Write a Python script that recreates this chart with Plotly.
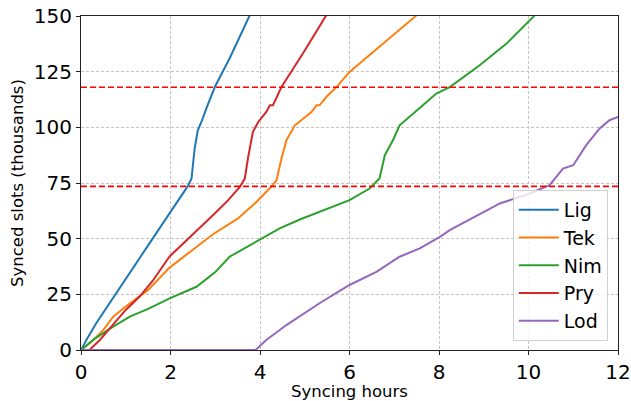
import plotly.graph_objects as go

# Data (hours, thousands of slots)
lig_h = [0, 0.12, 0.34, 0.68, 1.09, 1.5, 1.75, 2.0, 2.09, 2.25, 2.39, 2.47, 2.50, 2.54, 2.61, 2.69, 2.80, 2.99, 3.32, 3.77]
lig_v = [0, 4.5, 12, 22.4, 35, 47, 54.5, 62, 65, 70, 73.7, 77, 84.5, 90.5, 98.7, 102.4, 108.4, 118.1, 130.9, 150.3]

tek_h = [0, 0.25, 0.5, 0.72, 1.0, 1.31, 1.5, 1.98, 2.5, 2.95, 3.5, 3.92, 4.25, 4.37, 4.48, 4.59, 4.78, 5.15, 5.26, 5.33, 5.48, 5.71, 6.0, 6.53, 7.0, 7.5]
tek_v = [0, 4, 9, 15, 19.5, 23.9, 27, 37, 45, 52, 59, 66.5, 73.3, 76.3, 86, 94.2, 100.9, 106.9, 109.9, 109.9, 113.6, 118.1, 124.9, 133.8, 142, 150.3]

nim_h = [0, 0.3, 0.72, 1.09, 1.5, 1.98, 2.58, 3.0, 3.32, 3.77, 3.99, 4.44, 4.89, 5.41, 6.0, 6.45, 6.49, 6.67, 6.79, 6.97, 7.12, 7.57, 7.64, 7.94, 8.24, 8.91, 9.51, 10.14]
nim_v = [0, 5, 10.5, 15, 18.5, 23.2, 28.4, 35, 41.9, 47.1, 49.3, 54.6, 58.6, 62.8, 67.3, 72.5, 73.3, 77, 87.5, 94.2, 100.9, 108.4, 109.9, 115.2, 118.1, 127.9, 137.6, 150.3]

pry_h = [0, 0.19, 0.42, 0.7, 1.0, 1.31, 1.6, 1.98, 2.3, 2.6, 3.0, 3.29, 3.55, 3.66, 3.73, 3.84, 3.96, 4.14, 4.22, 4.29, 4.44, 4.48, 5.0, 5.48]
pry_v = [0, 0, 4.5, 11, 18, 24, 31, 42, 48, 54, 61.5, 67.3, 73.3, 77, 86, 97.9, 102.4, 106.9, 109.9, 109.9, 116.6, 118.1, 134.5, 150.3]

lod_h = [0, 3.9, 4.14, 4.59, 5.33, 6.0, 6.6, 7.12, 7.57, 8.02, 8.24, 9.06, 9.36, 10.03, 10.47, 10.77, 11.0, 11.29, 11.59, 11.81, 12.0]
lod_v = [0, 0, 4.5, 11.2, 21, 29.2, 35.1, 41.9, 45.6, 50.8, 53.8, 62.8, 65.8, 70.3, 74, 81.5, 83, 92, 99.5, 103.2, 104.7]

ref_levels = [118, 73.5]

names = ["Lig", "Tek", "Nim", "Pry", "Lod"]
colors = ["#1f77b4", "#ff7f0e", "#2ca02c", "#d62728", "#9467bd"]
series = [(lig_h, lig_v), (tek_h, tek_v), (nim_h, nim_v), (pry_h, pry_v), (lod_h, lod_v)]

x_ticks = [0, 2, 4, 6, 8, 10, 12]
y_ticks = [0, 25, 50, 75, 100, 125, 150]

fig = go.Figure()
for name, color, (xs, ys) in zip(names, colors, series):
    fig.add_trace(go.Scatter(x=xs, y=ys, mode="lines", name=name,
                             line=dict(color=color, width=2)))

for lvl in ref_levels:
    fig.add_hline(y=lvl, line=dict(color="red", width=1.6, dash="6px,3px"), layer="above")

font_family = "DejaVu Sans"
fig.update_layout(
    width=631, height=401,
    margin=dict(l=81, r=13, t=16, b=51),
    paper_bgcolor="white", plot_bgcolor="white",
    font=dict(family=font_family, color="black"),
    showlegend=True,
    legend=dict(x=0.981, y=0.027, xanchor="right", yanchor="bottom",
                bgcolor="rgba(255,255,255,0.8)", bordercolor="#d0d0d0", borderwidth=1,
                font=dict(size=19, family=font_family), itemwidth=40),
    xaxis=dict(range=[0, 12], tickvals=x_ticks, tickfont=dict(size=20),
               title=dict(text="Syncing hours", font=dict(size=16.5), standoff=4),
               automargin=False,
               showgrid=True, gridcolor="#c4c4c4", griddash="3px,2px", gridwidth=1,
               showline=True, linecolor="#222", linewidth=1, mirror=True,
               ticks="outside", ticklen=4, tickcolor="#222", zeroline=False),
    yaxis=dict(range=[0, 150], tickvals=y_ticks, tickfont=dict(size=20),
               title=dict(text="Synced slots (thousands)", font=dict(size=16.5), standoff=6),
               automargin=False,
               showgrid=True, gridcolor="#c4c4c4", griddash="3px,2px", gridwidth=1,
               showline=True, linecolor="#222", linewidth=1, mirror=True,
               ticks="outside", ticklen=4, tickcolor="#222", zeroline=False),
)

fig.write_html("out.html")
